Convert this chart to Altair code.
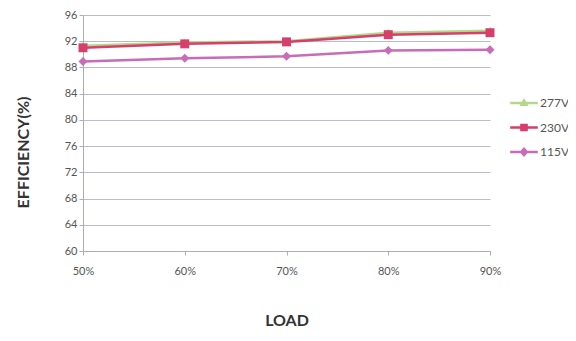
import altair as alt
import pandas as pd

loads = [50, 60, 70, 80, 90]
series = ["277V", "230V", "115V"]
eff_277 = [91.3, 91.8, 92.0, 93.3, 93.6]
eff_230 = [91.0, 91.6, 91.9, 93.0, 93.3]
eff_115 = [88.9, 89.4, 89.7, 90.6, 90.7]
colors = ["#b3d88a", "#d63e6c", "#c66cb8"]
shapes = ["triangle-up", "square", "diamond"]
# legend symbols: a short line segment with the marker on it
legend_paths = [
    "M-1.15,-0.1H1.15V0.1H-1.15Z M0,-0.42L0.38,0.26L-0.38,0.26Z",
    "M-1.15,-0.1H1.15V0.1H-1.15Z M-0.32,-0.32H0.32V0.32H-0.32Z",
    "M-1.15,-0.1H1.15V0.1H-1.15Z M0,-0.42L0.38,0L0,0.42L-0.38,0Z",
]

rows = []
for name, vals in zip(series, [eff_277, eff_230, eff_115]):
    for l, v in zip(loads, vals):
        rows.append({"load": l, "eff": v, "series": name})
df = pd.DataFrame(rows)

font = "Lato"

x_enc = alt.X("load:Q", scale=alt.Scale(domain=[50, 90], nice=False),
              axis=alt.Axis(values=loads, labelExpr="datum.value + '%'", grid=False,
                            labelFlush=False,
                            title="LOAD", titleFontSize=16, titleFont=font, titleFontWeight="bold",
                            titleColor="#333333", titlePadding=36, labelPadding=10,
                            labelFontSize=11, labelColor="#555555", labelFont=font,
                            domainColor="#a8adc0", tickColor="#a8adc0", tickSize=4))
y_enc = alt.Y("eff:Q", scale=alt.Scale(domain=[60, 96], nice=False),
              axis=alt.Axis(values=list(range(60, 97, 4)), grid=True, gridColor="#b8bccc",
                            title="EFFICIENCY(%)", titleFontSize=16, titleFont=font,
                            titleFontWeight="bold", titleColor="#333333", titlePadding=33,
                            titleY=137,
                            labelFontSize=11, labelColor="#555555", labelFont=font,
                            domainColor="#a8adc0", tickColor="#a8adc0", tickSize=4))

base = alt.Chart(df).encode(x=x_enc, y=y_enc)

layers = []
for name, col, shp in zip(series, colors, shapes):
    sub = base.transform_filter(alt.datum.series == name)
    layers.append(sub.mark_line(strokeWidth=2.5, color=col))
for name, col, shp in zip(series, colors, shapes):
    sub = base.transform_filter(alt.datum.series == name)
    layers.append(sub.mark_point(size=80, filled=True, opacity=1, shape=shp, color=col))

leg = alt.Legend(title=None, orient="none", legendX=429, legendY=76,
                 padding=0, labelFontSize=12, labelColor="#555555",
                 labelFont=font, labelOffset=4, rowPadding=6.5,
                 symbolSize=576, symbolOpacity=1, symbolStrokeWidth=0)

legend_layer = base.mark_point(opacity=0, filled=True).encode(
    color=alt.Color("series:N", scale=alt.Scale(domain=series, range=colors), legend=leg),
    shape=alt.Shape("series:N", scale=alt.Scale(domain=series, range=legend_paths), legend=leg),
)
layers.append(legend_layer)

chart = alt.layer(*layers).properties(
    width=407, height=236,
    autosize=alt.AutoSizeParams(type="none"),
    padding={"left": 75, "top": 7, "right": 78, "bottom": 82},
    background="white",
).configure_view(stroke=None)

chart.save("out.html", embed_options={"renderer": "svg", "actions": False})
